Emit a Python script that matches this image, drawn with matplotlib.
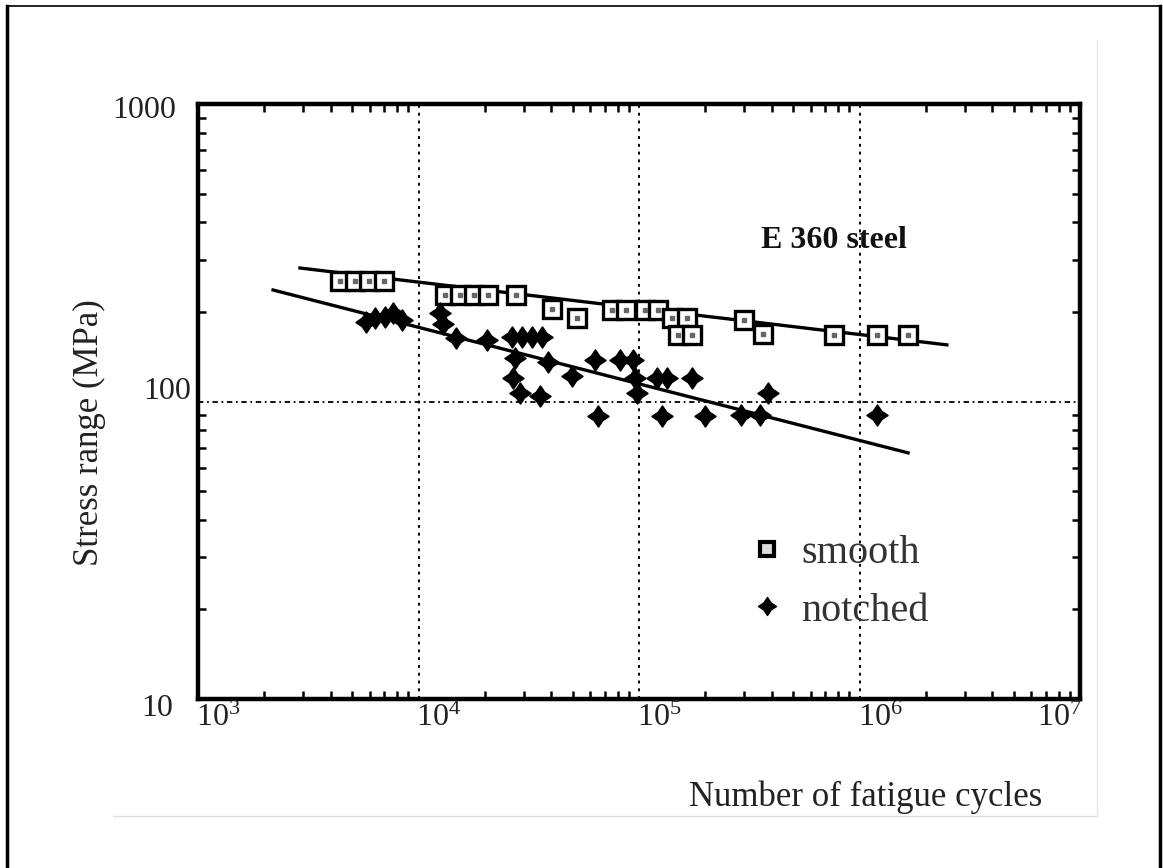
import matplotlib
matplotlib.use("Agg")
import matplotlib.pyplot as plt
from matplotlib.path import Path
from matplotlib.lines import Line2D
import numpy as np

plt.rcParams['font.family'] = ['Liberation Serif', 'DejaVu Serif']
plt.rcParams['mathtext.fontset'] = 'custom'
plt.rcParams['mathtext.rm'] = 'Liberation Serif'
plt.rcParams['mathtext.it'] = 'Liberation Serif:italic'
plt.rcParams['mathtext.bf'] = 'Liberation Serif:bold'

# ---- data: cycles to failure N and stress range S (MPa) ----
smooth_N = [4406, 5152, 5964, 6975, 13190, 15420, 17850, 20650, 27670,
            40310, 52340, 75430, 87300, 106500, 122000, 141100, 165100,
            150300, 174000, 299400, 365100, 766200, 1201000, 1660000]
smooth_S = [254, 254, 254, 254, 228, 228, 228, 228, 228,
            204.7, 190.9, 203, 203, 203, 203, 191, 191,
            167.3, 167.3, 187.9, 168.6, 167.3, 167.3, 167.3]

notched_N = [5781, 6349, 7048, 7662, 8419, 12520, 12910, 14800, 20450,
             26550, 29470, 32710, 36320, 27390, 26830, 28860, 35560, 38670,
             49680, 63170, 65180, 81990, 93940, 95920, 97940, 120650,
             133970, 127150, 173950, 199200, 290100, 353800, 384600, 1200000]
notched_S = [185.0, 190.9, 192.3, 198.4, 187.9, 198.4, 182.2, 163.5, 161.0,
             164.8, 164.8, 164.8, 164.8, 140.0, 120.0, 106.8, 104.4, 135.8,
             121.8, 137.9, 89.4, 137.9, 137.9, 120.0, 106.8, 120.0,
             120.0, 89.4, 120.0, 89.4, 90.1, 90.1, 106.8, 90.1]

# fitted S-N lines (end points)
smooth_fit_N = [2900, 2490000]
smooth_fit_S = [281, 155]
notched_fit_N = [2190, 1660000]
notched_fit_S = [237, 67.2]

series_labels = ["smooth", "notched"]
x_tick_exps = [3, 4, 5, 6, 7]
y_tick_labels = ["1000", "100", "10"]

W, H = 1163, 868
fig = plt.figure(figsize=(W / 100, H / 100), dpi=100)
fig.patch.set_facecolor("white")


def fx(px):
    return px / W


def fy(py):
    return 1 - py / H


ax = fig.add_axes([fx(198), fy(699), fx(1080) - fx(198), fy(104) - fy(699)])
ax.set_xscale("log")
ax.set_yscale("log")
ax.set_xlim(1e3, 1e7)
ax.set_ylim(10, 1000)

# grid lines
for gx in [1e4, 1e5, 1e6]:
    ax.axvline(gx, color="black", lw=1.4, ls=(0, (1.5, 2.5)), zorder=1)
ax.axhline(100, color="black", lw=1.3, ls=(0, (3, 2, 1, 2)), zorder=1)

# four-pointed marker for notched specimens
r = 0.40
star = Path([(0, 1), (r, r), (1, 0), (r, -r), (0, -1), (-r, -r), (-1, 0), (-r, r), (0, 1)],
            [Path.MOVETO] + [Path.LINETO] * 7 + [Path.CLOSEPOLY])

# fitted lines
ax.plot(smooth_fit_N, smooth_fit_S, color="black", lw=2.4, zorder=2)
ax.plot(notched_fit_N, notched_fit_S, color="black", lw=2.4, zorder=2)

# data points
ax.plot(smooth_N, smooth_S, ls="none", marker="s", ms=12.5, mfc="white",
        mec="black", mew=2.4, zorder=3)
ax.plot(smooth_N, smooth_S, ls="none", marker="s", ms=3.5, mfc="#666666",
        mec="#666666", zorder=4)
ax.plot(notched_N, notched_S, ls="none", marker=star, ms=15, mfc="black",
        mec="black", mew=1.2, zorder=3)

# spines / ticks
for sp in ax.spines.values():
    sp.set_linewidth(3.2)
ax.tick_params(which="both", direction="in", top=True, right=True,
               labelbottom=False, labelleft=False, width=1.8)
ax.tick_params(which="major", length=0)
ax.tick_params(which="minor", length=6)

# tick labels
for e in x_tick_exps:
    if e < 7:
        fig.text(fx(198 + 220.5 * (e - 3) - 2), fy(704), r"$\mathregular{10^{%d}}$" % e,
                 ha="left", va="top", fontsize=23, color="#222222")
    else:
        fig.text(fx(1082), fy(704), r"$\mathregular{10^{%d}}$" % e,
                 ha="right", va="top", fontsize=23, color="#222222")

fig.text(fx(176), fy(110), y_tick_labels[0], ha="right", va="center",
         fontsize=23, color="#222222")
fig.text(fx(191), fy(391), y_tick_labels[1], ha="right", va="center",
         fontsize=23, color="#222222")
fig.text(fx(173), fy(708), y_tick_labels[2], ha="right", va="center",
         fontsize=23, color="#222222")

# axis titles
fig.text(fx(866), fy(797), "Number of fatigue cycles", ha="center", va="center",
         fontsize=25, color="#222222")
fig.text(fx(89), fy(433), "Stress range (MPa)", ha="center", va="center",
         rotation=90, fontsize=25, color="#222222")

# annotation
fig.text(fx(834), fy(241), "E 360 steel", ha="center", va="center",
         fontsize=23, fontweight="bold", color="#111111")

# legend
h_smooth = Line2D([], [], ls="none", marker="s", ms=9.5, mfc="#dddddd",
                  mec="black", mew=3.0)
h_notched = Line2D([], [], ls="none", marker=star, ms=13, mfc="black", mec="black")
leg = ax.legend([h_smooth, h_notched], series_labels, loc="upper left",
                bbox_to_anchor=(fx(747), fy(535)), bbox_transform=fig.transFigure,
                frameon=False, fontsize=29, handlelength=1.0, handletextpad=0.35,
                labelspacing=0.5, borderpad=0, borderaxespad=0)
for t in leg.get_texts():
    t.set_color("#333333")

# outer frame and page edges
fig.add_artist(Line2D([fx(7), fx(7)], [fy(6), 0], color="black", lw=2.5))
fig.add_artist(Line2D([fx(7), fx(1160)], [fy(6), fy(6)], color="black", lw=1.2))
fig.add_artist(Line2D([fx(1160), fx(1160)], [fy(6), 0], color="black", lw=2.5))
fig.add_artist(Line2D([fx(113), fx(1097)], [fy(816), fy(816)], color="#dddddd", lw=1))
fig.add_artist(Line2D([fx(1097), fx(1097)], [fy(40), fy(816)], color="#e8e8e8", lw=1))

fig.savefig("out.png", dpi=100, facecolor="white")
